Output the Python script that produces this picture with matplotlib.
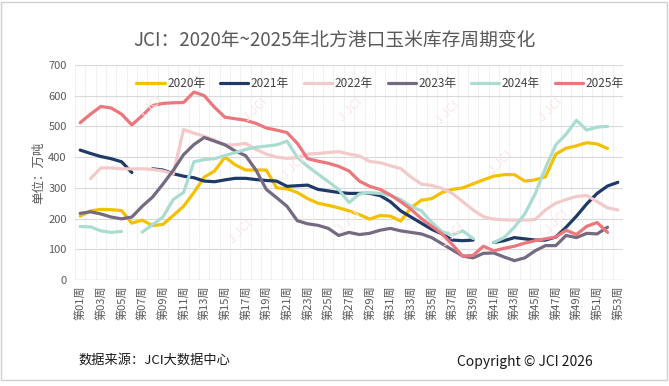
import numpy as np
import matplotlib
matplotlib.use("Agg")
import matplotlib.pyplot as plt
from matplotlib.patches import Rectangle

plt.rcParams['font.family'] = ['Noto Sans CJK SC', 'DejaVu Sans']

nan = np.nan

weeks = [f"第{i:02d}周" for i in range(1, 54)]

y2020 = [208, 225, 230, 229, 226, 185, 195, 177, 181, 210,
         240, 285, 335, 355, 400, 375, 358, 358, 358, 300,
         297, 285, 265, 250, 243, 235, 225, 213, 198, 210,
         208, 192, 235, 260, 265, 285, 295, 300, 313, 326,
         338, 343, 343, 322, 326, 336, 410, 429, 437, 447,
         443, 428, nan]
y2021 = [423, 412, 402, 395, 385, 350, nan, 362, 358, 346,
         338, 333, 322, 320, 326, 331, 331, 327, 324, 322,
         305, 307, 309, 295, 290, 285, 282, 282, 282, 275,
         255, 225, 205, 185, 165, 150, 130, 128, 130, nan,
         122, 128, 138, 134, 130, 130, 140, 172, 208, 248,
         282, 306, 318]
y2022 = [nan, 330, 365, 365, 362, 362, 362, 360, 355, 345,
         490, 478, 468, 455, 440, 440, 445, 425, 410, 400,
         396, 398, 410, 412, 415, 418, 410, 404, 386, 382,
         372, 363, 335, 312, 308, 298, 282, 255, 228, 206,
         198, 196, 195, 195, 197, 228, 250, 262, 272, 275,
         255, 235, 228]
y2023 = [217, 222, 215, 205, 199, 205, 240, 270, 312, 357,
         408, 441, 464, 452, 440, 420, 405, 358, 295, 268,
         240, 193, 183, 178, 168, 145, 155, 148, 152, 162,
         168, 160, 155, 150, 138, 118, 98, 78, 72, 87,
         88, 75, 63, 72, 95, 112, 112, 145, 138, 152,
         150, 172, nan]
y2024 = [174, 173, 160, 155, 158, nan, 156, 180, 205, 262,
         285, 385, 392, 395, 405, 415, 425, 432, 436, 440,
         452, 400, 370, 345, 320, 295, 252, 280, 284, 282,
         275, 262, 240, 225, 188, 157, 147, 160, 135, nan,
         122, 138, 172, 215, 280, 365, 440, 475, 520, 488,
         498, 500, nan]
y2025 = [512, 540, 565, 560, 540, 505, 535, 568, 575, 577,
         578, 612, 600, 562, 530, 525, 520, 510, 495, 488,
         480, 445, 395, 387, 380, 370, 355, 322, 305, 295,
         277, 255, 230, 200, 175, 150, 115, 78, 80, 110,
         95, 103, 110, 120, 128, 134, 140, 162, 148, 175,
         187, 155, nan]

series = [
    ("2020年", y2020, "#F5C000"),
    ("2021年", y2021, "#1F3A66"),
    ("2022年", y2022, "#F3CACA"),
    ("2023年", y2023, "#756A80"),
    ("2024年", y2024, "#AADCD2"),
    ("2025年", y2025, "#EC767C"),
]

fig = plt.figure(figsize=(6.69, 3.86), dpi=100)
ax = fig.add_axes([75 / 669, 1 - 280 / 386, 548 / 669, 215 / 386])

x = np.arange(len(weeks))

# faint watermarks
wm_pos = [(150, 108), (255, 110), (350, 110), (447, 113), (550, 110),
          (293, 168), (500, 163),
          (240, 232), (348, 222), (452, 235), (556, 222)]
for px, py in wm_pos:
    fig.text(px / 669, 1 - py / 386, "J JCI", rotation=45, fontsize=9,
             color="#FAE6E6", ha="center", va="center", zorder=0)

for name, vals, col in series:
    ax.plot(x, np.array(vals, dtype=float), color=col, lw=2.3, label=name,
            solid_capstyle="round", solid_joinstyle="round", zorder=3)

ax.set_xlim(-0.5, len(weeks) - 0.5)
ax.set_ylim(0, 700)
ax.set_yticks(range(0, 701, 100))
ax.set_xticks(x[::2])
ax.set_xticklabels(weeks[::2], rotation=90, fontsize=8, color="#595959")
ax.set_xticks(np.arange(-0.5, len(weeks), 1), minor=True)
ax.tick_params(axis="y", labelsize=8, labelcolor="#595959", length=0, pad=6)
ax.tick_params(axis="x", which="both", length=0, pad=4)
ax.grid(axis="y", which="major", color="#D9D9D9", lw=0.8)
ax.grid(axis="x", which="minor", color="#E8E8E8", lw=0.6, ls=(0, (2, 1)))
for s in ax.spines.values():
    s.set_visible(False)
ax.axhline(0, color="#D9D9D9", lw=1, zorder=2)
ax.set_facecolor("none")

ax.set_ylabel("单位：万吨", fontsize=9, color="#595959", labelpad=2)

leg = ax.legend(loc="upper center", bbox_to_anchor=(380 / 669, 1 - 72 / 386),
                bbox_transform=fig.transFigure, ncol=6,
                frameon=False, fontsize=8.5, handlelength=2.4,
                handletextpad=0.2, columnspacing=1.25, borderaxespad=0)
for t in leg.get_texts():
    t.set_color("#404040")

fig.text(0.5, 1 - 40 / 386, "JCI：2020年~2025年北方港口玉米库存周期变化",
         ha="center", va="center", fontsize=13.5, color="#595959")
fig.text(78 / 669, 1 - 360 / 386, "数据来源：JCI大数据中心", ha="left",
         va="center", fontsize=9.5, color="#1A1A1A")
fig.text(457 / 669, 1 - 362 / 386, "Copyright © JCI 2026", ha="left",
         va="center", fontsize=10, color="#1A1A1A")

fig.patches.append(Rectangle((1 / 669, 1 - 380 / 386), 666 / 669, 378 / 386,
                             transform=fig.transFigure, fill=False,
                             edgecolor="#D0D0D0", lw=1))

fig.savefig("out.png", dpi=100)
